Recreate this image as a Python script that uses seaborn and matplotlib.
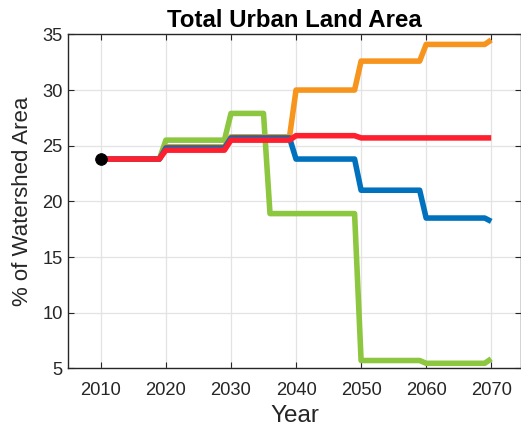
import matplotlib
matplotlib.use("Agg")
import matplotlib.pyplot as plt
import seaborn as sns
import pandas as pd

# ---- data ----
start_year = [2010]
start_value = [23.8]

blue_years = [2010, 2019, 2020, 2029, 2030, 2039, 2040, 2049, 2050, 2059, 2060, 2069, 2070]
blue_vals = [23.8, 23.8, 24.8, 24.8, 25.7, 25.7, 23.8, 23.8, 21.0, 21.0, 18.5, 18.5, 18.2]

orange_years = [2010, 2019, 2020, 2029, 2030, 2039, 2040, 2049, 2050, 2059, 2060, 2069, 2070]
orange_vals = [23.8, 23.8, 24.9, 24.9, 25.8, 25.8, 30.0, 30.0, 32.6, 32.6, 34.1, 34.1, 34.5]

green_years = [2010, 2019, 2020, 2029, 2030, 2035, 2036, 2049, 2050, 2059, 2060, 2069, 2070]
green_vals = [23.8, 23.8, 25.5, 25.5, 27.9, 27.9, 18.9, 18.9, 5.7, 5.7, 5.45, 5.45, 5.85]

red_years = [2010, 2019, 2020, 2029, 2030, 2039, 2040, 2049, 2050, 2070]
red_vals = [23.8, 23.8, 24.6, 24.6, 25.5, 25.5, 25.9, 25.9, 25.7, 25.7]

x_ticks = [2010, 2020, 2030, 2040, 2050, 2060, 2070]
y_ticks = [5, 10, 15, 20, 25, 30, 35]

title = "Total Urban Land Area"
xlabel = "Year"
ylabel = "% of Watershed Area"

# ---- style ----
sns.set_theme(style="ticks")
plt.rcParams["font.family"] = ["Liberation Sans", "DejaVu Sans"]
axc = "#262626"

fig = plt.figure(figsize=(5.21, 4.28), dpi=100)
ax = fig.add_axes([68.3 / 521, (428 - 368.3) / 428, (520.5 - 68.3) / 521, (368.3 - 34.4) / 428])

series = [
    (green_years, green_vals, "#8DC63F"),
    (orange_years, orange_vals, "#F7941D"),
    (blue_years, blue_vals, "#0072BD"),
    (red_years, red_vals, "#FF1F2E"),
]
for yrs, vals, col in series:
    df = pd.DataFrame({"year": yrs, "value": vals})
    sns.lineplot(data=df, x="year", y="value", ax=ax, color=col, linewidth=4,
                 estimator=None, sort=False, solid_joinstyle="round",
                 solid_capstyle="butt")

sns.scatterplot(x=start_year, y=start_value, ax=ax, color="black", s=70,
                edgecolor="black", zorder=5)

ax.set_xlim(2005, 2074.5)
ax.set_ylim(5, 35)
ax.set_xticks(x_ticks)
ax.set_yticks(y_ticks)
ax.grid(True, color="#E3E3E3", linewidth=0.9)
ax.set_axisbelow(True)

for s in ax.spines.values():
    s.set_visible(True)
    s.set_color(axc)
    s.set_linewidth(1.0)

ax.tick_params(axis="both", direction="in", length=4, width=0.8, color=axc,
               labelcolor=axc, labelsize=13.2, top=True, right=True)
ax.tick_params(axis="x", pad=10)
ax.tick_params(axis="y", pad=4)

ax.set_xlabel(xlabel, fontsize=17.5, color=axc, labelpad=4.5)
ax.set_ylabel(ylabel, fontsize=16, color=axc, labelpad=7)
ax.set_title(title, fontsize=17.3, fontweight="bold", color="black", pad=5)

fig.savefig("out.png", dpi=100)
